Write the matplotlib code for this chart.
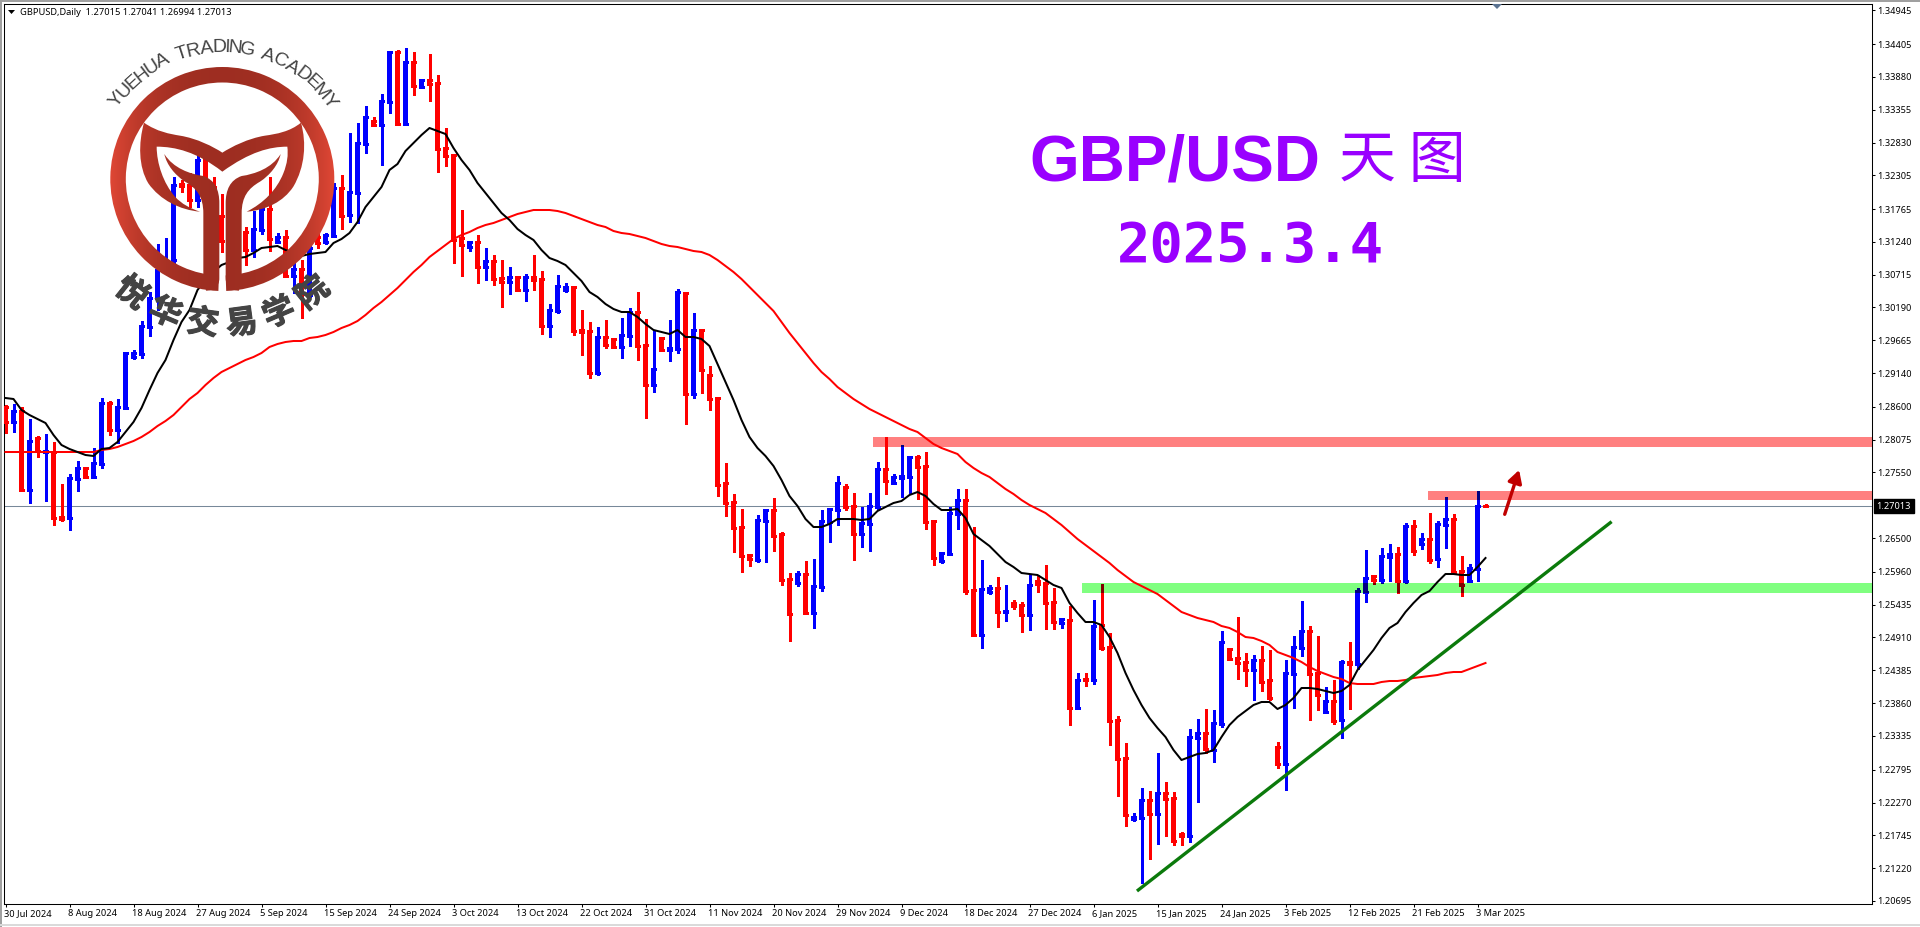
import numpy as np
import matplotlib
matplotlib.use('Agg')
import matplotlib.pyplot as plt
import matplotlib.patheffects as pe
from matplotlib.patches import Rectangle, Wedge, PathPatch, Polygon
from matplotlib.path import Path
from matplotlib.textpath import TextPath
from matplotlib.font_manager import FontProperties
from matplotlib.transforms import ScaledTranslation

plt.rcParams['font.family'] = ['Noto Sans', 'Noto Sans CJK SC', 'DejaVu Sans']

# daily GBPUSD candles, in points (1e-5)
opens = np.array([
    128598, 128358, 128534, 127270, 128102, 127878, 127878, 126838, 126822, 127446,
    127622, 127478, 127686, 128662, 128230, 128582, 129398, 129446, 129878, 130342,
    130822, 130950, 132166, 132150, 131910, 132566, 132118, 131654, 131270, 131510,
    131398, 131110, 131430, 131766, 131238, 131318, 130694, 130806, 130390, 131318,
    131238, 131334, 132102, 131670, 132022, 132806, 133174, 133110, 133478, 134278,
    133126, 134118, 133718, 133830, 133782, 132742, 132630, 131302, 131158, 131238,
    130838, 130934, 130662, 130598, 130678, 130470, 130678, 130646, 129894, 130134,
    130470, 130518, 129830, 129814, 129142, 129718, 129686, 129558, 129734, 130118,
    129590, 128950, 129702, 129510, 129526, 130422, 128806, 129830, 129110, 128742,
    127382, 127078, 126678, 126230, 126150, 126774, 126950, 126566, 125846, 125782,
    125926, 125302, 125718, 126758, 126950, 127318, 127014, 126566, 126726, 126998,
    127606, 127382, 127462, 127478, 127798, 127654, 126774, 126134, 126246, 126886,
    127110, 125670, 124950, 125638, 125702, 125318, 125462, 125430, 125270, 125814,
    125782, 125478, 125142, 125190, 123782, 124246, 124230, 125110, 124758, 123590,
    122982, 122006, 122022, 122310, 122086, 122422, 122342, 121766, 121734, 123302,
    123382, 123110, 123526, 124726, 124582, 124518, 124390, 124550, 124230, 123158,
    122886, 124326, 124742, 125014, 124342, 123718, 123894, 123590, 124518, 124486,
    125638, 125894, 125830, 126198, 126246, 125814, 126694, 126406, 126486, 126166,
    126710, 126806, 125974, 125814, 126006, 127015]) / 1e5
highs = np.array([
    128630, 128646, 128598, 128406, 128134, 128166, 128038, 127366, 127526, 127734,
    127638, 127942, 128742, 128694, 128726, 129462, 129510, 129974, 130438, 131206,
    131302, 132278, 132230, 132342, 132646, 132630, 132278, 132006, 131670, 131590,
    131478, 131734, 131862, 132278, 131382, 131430, 130998, 130950, 131222, 131478,
    131382, 132182, 132310, 132982, 133142, 133414, 133238, 133606, 134278, 134310,
    134342, 134278, 133846, 134246, 133910, 133062, 132630, 131750, 131254, 131350,
    131142, 131030, 130950, 130838, 130678, 130726, 131030, 130774, 130246, 130710,
    130582, 130534, 130150, 129958, 129878, 129990, 129686, 130022, 130182, 130438,
    130006, 129830, 129718, 129990, 130486, 130438, 130102, 129846, 129254, 128742,
    127702, 127206, 126966, 126230, 126870, 126950, 127142, 126598, 125942, 125974,
    126134, 126166, 126950, 126966, 127494, 127366, 127222, 126998, 127222, 127718,
    128118, 127526, 127990, 127798, 127830, 127878, 126790, 126278, 126998, 127286,
    127286, 126678, 126150, 125750, 125878, 125750, 125510, 125478, 125910, 125910,
    126070, 125702, 125206, 125414, 124342, 124342, 125510, 125766, 124982, 123654,
    123222, 122102, 122502, 122454, 123062, 122598, 122438, 121798, 123446, 123606,
    123766, 123750, 125014, 124742, 125238, 124662, 124630, 124774, 124710, 123238,
    124550, 124934, 125494, 125094, 124934, 124118, 124230, 124550, 124838, 125702,
    126310, 125910, 126342, 126406, 126358, 126742, 126790, 126582, 126902, 126774,
    127158, 126886, 126214, 126086, 127254, 127041]) / 1e5
lows = np.array([
    128182, 128198, 127254, 127062, 127798, 127094, 126710, 126774, 126630, 127254,
    127462, 127462, 127622, 128150, 128022, 128566, 129366, 129382, 129734, 130150,
    130758, 130902, 132038, 131798, 131798, 131990, 131670, 131078, 131190, 131302,
    130870, 130998, 131366, 131094, 131222, 130678, 130422, 130022, 130358, 131142,
    131206, 131318, 131446, 131558, 131542, 132662, 133110, 132470, 133302, 133110,
    133110, 133590, 133718, 133494, 132358, 132454, 130902, 130694, 131094, 130582,
    130630, 130550, 130198, 130406, 130454, 130294, 130470, 129766, 129718, 130102,
    130438, 129750, 129430, 129062, 129110, 129542, 129542, 129382, 129574, 129350,
    128422, 128838, 129494, 129334, 129462, 128326, 128742, 128822, 128550, 127174,
    126854, 126278, 125958, 126054, 126118, 126118, 126294, 125750, 124854, 125734,
    125286, 125062, 125654, 126438, 126710, 126950, 126150, 126358, 126294, 126950,
    127206, 127366, 127158, 127222, 127126, 126646, 126070, 126102, 126230, 126646,
    125606, 124934, 124742, 125606, 125078, 125174, 125366, 124998, 125030, 125638,
    125046, 125046, 125062, 123510, 123766, 124134, 124166, 124710, 123190, 122374,
    121894, 121974, 120982, 121366, 121606, 121734, 121590, 121590, 121638, 122278,
    123062, 122918, 123478, 124550, 124246, 124134, 123910, 124054, 123910, 122822,
    122470, 123782, 124614, 123590, 123750, 123718, 123526, 123302, 123766, 124406,
    125478, 125766, 125782, 125814, 125622, 125782, 126230, 126326, 126102, 126038,
    126342, 125926, 125574, 125798, 125814, 126994]) / 1e5
closes = np.array([
    128358, 128534, 127270, 128054, 127894, 127894, 126822, 126806, 127462, 127622,
    127478, 127702, 128662, 128230, 128598, 129462, 129462, 129894, 130342, 130790,
    130918, 132150, 132134, 131910, 132550, 132150, 131990, 131254, 131510, 131398,
    131110, 131446, 131766, 131286, 131318, 130694, 130806, 130422, 131142, 131222,
    131350, 132102, 131654, 132038, 132822, 133238, 133110, 133494, 134278, 133126,
    134118, 133734, 133830, 133766, 132726, 132614, 131270, 131190, 131238, 130838,
    130934, 130646, 130598, 130678, 130470, 130678, 130630, 129894, 130150, 130534,
    130518, 129814, 129798, 129142, 129718, 129590, 129558, 129750, 130118, 129574,
    128950, 129206, 129510, 129542, 130438, 128806, 129830, 129190, 128726, 127350,
    127062, 126662, 126214, 126166, 126790, 126950, 126534, 125830, 125286, 125926,
    125302, 125734, 126774, 126966, 127382, 126998, 126566, 126742, 127014, 127606,
    127414, 127478, 127494, 127798, 127638, 126758, 126182, 126262, 126902, 127110,
    125654, 124950, 125686, 125702, 125318, 125334, 125414, 125270, 125750, 125766,
    125462, 125158, 125206, 123782, 124230, 124230, 125094, 124742, 123574, 122966,
    122070, 122038, 122310, 122086, 122422, 122326, 121654, 121734, 123318, 123382,
    123126, 123542, 124838, 124566, 124502, 124390, 124550, 124198, 123942, 122886,
    124342, 124758, 125014, 124326, 123990, 123894, 123574, 124518, 124486, 125654,
    125862, 125830, 126214, 126246, 125814, 126694, 126294, 126486, 126150, 126726,
    126806, 125958, 125750, 126022, 127014, 127013]) / 1e5

# moving averages, same length as the candles
ma_black = np.array([
    128742, 128726, 128550, 128470, 128406, 128342, 128150, 127990, 127926, 127878,
    127830, 127814, 127926, 127942, 128038, 128198, 128358, 128582, 128870, 129142,
    129350, 129670, 129958, 130150, 130470, 130630, 130758, 130870, 130918, 130982,
    130998, 131062, 131142, 131158, 131174, 131110, 131062, 131014, 131046, 131062,
    131078, 131222, 131286, 131382, 131558, 131798, 131958, 132118, 132390, 132486,
    132694, 132822, 132950, 133062, 133014, 132966, 132742, 132550, 132390, 132182,
    132022, 131862, 131702, 131590, 131446, 131350, 131270, 131110, 130982, 130934,
    130870, 130742, 130614, 130438, 130358, 130246, 130166, 130118, 130118, 130038,
    129926, 129830, 129798, 129766, 129830, 129718, 129718, 129686, 129574, 129286,
    128998, 128710, 128390, 128118, 127942, 127814, 127654, 127430, 127174, 127014,
    126806, 126678, 126678, 126726, 126806, 126806, 126806, 126790, 126806, 126934,
    126998, 127062, 127094, 127190, 127238, 127174, 127046, 126950, 126950, 126966,
    126822, 126566, 126470, 126374, 126246, 126118, 126038, 125942, 125926, 125910,
    125830, 125750, 125702, 125462, 125302, 125158, 125158, 125110, 124918, 124662,
    124342, 124070, 123830, 123622, 123462, 123318, 123110, 122950, 122998, 123046,
    123062, 123110, 123318, 123510, 123638, 123734, 123830, 123878, 123878, 123766,
    123830, 123942, 124102, 124102, 124086, 124054, 124022, 124054, 124150, 124390,
    124550, 124710, 124902, 125062, 125142, 125318, 125462, 125590, 125654, 125798,
    125926, 125926, 125910, 125910, 126038, 126182]) / 1e5
ma_red = np.array([
    127878, 127878, 127878, 127878, 127878, 127878, 127878, 127878, 127878, 127878,
    127878, 127878, 127910, 127926, 127958, 128006, 128054, 128118, 128198, 128294,
    128374, 128470, 128598, 128726, 128822, 128950, 129062, 129158, 129222, 129286,
    129350, 129398, 129462, 129558, 129606, 129638, 129654, 129654, 129702, 129718,
    129750, 129798, 129862, 129910, 129974, 130070, 130182, 130278, 130390, 130502,
    130630, 130758, 130870, 130998, 131094, 131190, 131286, 131350, 131398, 131462,
    131510, 131542, 131590, 131638, 131686, 131718, 131750, 131750, 131750, 131734,
    131702, 131654, 131606, 131558, 131510, 131478, 131414, 131382, 131366, 131334,
    131302, 131254, 131206, 131174, 131158, 131126, 131094, 131078, 131030, 130950,
    130854, 130758, 130646, 130518, 130390, 130262, 130134, 129958, 129782, 129622,
    129462, 129302, 129158, 129046, 128918, 128822, 128726, 128646, 128566, 128502,
    128438, 128374, 128310, 128246, 128198, 128102, 128006, 127942, 127894, 127846,
    127718, 127622, 127542, 127478, 127382, 127286, 127206, 127110, 127030, 126966,
    126902, 126806, 126710, 126598, 126486, 126390, 126294, 126198, 126102, 125990,
    125894, 125798, 125734, 125670, 125606, 125510, 125414, 125318, 125270, 125222,
    125190, 125158, 125094, 125062, 124998, 124918, 124902, 124854, 124790, 124678,
    124630, 124582, 124518, 124438, 124374, 124326, 124278, 124246, 124182, 124166,
    124166, 124166, 124198, 124214, 124214, 124230, 124262, 124278, 124294, 124310,
    124342, 124358, 124358, 124406, 124454, 124502]) / 1e5

date_labels = ['30 Jul 2024', '8 Aug 2024', '18 Aug 2024', '27 Aug 2024', '5 Sep 2024',
               '15 Sep 2024', '24 Sep 2024', '3 Oct 2024', '13 Oct 2024', '22 Oct 2024',
               '31 Oct 2024', '11 Nov 2024', '20 Nov 2024', '29 Nov 2024', '9 Dec 2024',
               '18 Dec 2024', '27 Dec 2024', '6 Jan 2025', '15 Jan 2025', '24 Jan 2025',
               '3 Feb 2025', '12 Feb 2025', '21 Feb 2025', '3 Mar 2025']
price_ticks = [1.34945, 1.34405, 1.33880, 1.33355, 1.32830, 1.32305, 1.31765, 1.31240,
               1.30715, 1.30190, 1.29665, 1.29140, 1.28600, 1.28075, 1.27550, 1.26500,
               1.25960, 1.25435, 1.24910, 1.24385, 1.23860, 1.23335, 1.22795, 1.22270,
               1.21745, 1.21220, 1.20695]

# horizontal zones: first bar, low, high
zone_starts = [108.4, 177.75, 134.5]
zone_lows = [1.27960, 1.27115, 1.25620]
zone_highs = [1.28118, 1.27254, 1.25782]
zone_colors = ['#FF8080', '#FF8080', '#80FF80']

# trend line and arrow ends (bar, price)
trend_bars = [141.6, 200.6]
trend_prices = [1.20870, 1.26747]
arrow_bars = [187.4, 189.2]
arrow_prices = [1.26881, 1.27590]

PX_PER_BAR = 8
FIRST_BAR_PX = 5.5
W, H = 1920, 927
AX_L, AX_R, AX_T, AX_B = 4, 1872, 4, 904


def draw_candles(ax, up, down, zorder, clip=None):
    xs = np.arange(len(opens))
    colors = [up if c >= o else down for o, c in zip(opens, closes)]
    half = 2.5 / PX_PER_BAR
    bottoms = np.minimum(opens, closes)
    tops = np.maximum(opens, closes)
    arts = [
        ax.vlines(xs, lows, highs, colors=colors, linewidths=0.75, zorder=zorder),
        ax.hlines(opens, xs - half, xs + half, colors=colors, linewidths=0.75, zorder=zorder),
        ax.hlines(closes, xs - half, xs + half, colors=colors, linewidths=0.75, zorder=zorder),
    ]
    arts.extend(ax.bar(xs, tops - bottoms, width=2 * half, bottom=bottoms, color=colors,
                       linewidth=0, zorder=zorder))
    for a in arts:
        a.set_antialiased(False)
        if clip is not None:
            a.set_clip_path(clip)


def gradient_fill(ov, patch, box):
    # logo fill: dark in the middle, lighter towards the left/right edges
    t = np.abs(np.linspace(-1, 1, 200)) ** 2.6
    dark = np.array([0.62, 0.18, 0.13])
    light = np.array([0.88, 0.28, 0.21])
    img = (dark[None, :] * (1 - t[:, None]) + light[None, :] * t[:, None])[None, :, :]
    im = ov.imshow(img, extent=box, aspect='auto', zorder=20, origin='upper')
    patch.set_transform(ov.transData)
    im.set_clip_path(patch)


def curved_text(ov, text, cx, cy, r, a0, a1, size, **kw):
    fp = FontProperties(family='Liberation Sans', size=size)
    widths = [TextPath((0, 0), ch, prop=fp).get_extents().width if ch != ' ' else size * 0.3
              for ch in text]
    widths = np.array(widths) + size * 0.12
    mid = np.cumsum(widths) - widths / 2
    angles = a0 + (a1 - a0) * mid / widths.sum()
    for ch, a in zip(text, angles):
        rad = np.deg2rad(a)
        ov.text(cx + r * np.sin(rad), cy - r * np.cos(rad), ch, rotation=-a,
                rotation_mode='anchor', ha='center', va='baseline', fontsize=size,
                family='Liberation Sans', zorder=22, **kw)


def draw_logo(ov):
    cx, cy = 222.3, 179.0
    box = (cx - 113, cx + 113, cy + 113, cy - 113)
    # y runs downwards on this overlay, so the gap at the foot sits at +90 degrees
    ring = Wedge((cx, cy), 112, 92, 448, width=15.5)
    gradient_fill(ov, ring, box)

    def z(x, y):
        return (x / 3.0, y / 3.0)

    tail = [(432, 368), (470, 395), (510, 402), (540, 407), (590, 415), (640, 440), (667, 458),
            (695, 440), (745, 415), (795, 407), (830, 402), (870, 395), (903, 368),
            (920, 430), (915, 500), (880, 560), (850, 605), (800, 630), (740, 635),
            (790, 610), (830, 570), (850, 520), (862, 490), (865, 465), (862, 440),
            (810, 440), (750, 455), (667, 515), (590, 455), (525, 440), (470, 440),
            (470, 490), (490, 550), (525, 590), (545, 612), (570, 625), (600, 635),
            (540, 630), (480, 600), (445, 550), (415, 500), (415, 430), (432, 368)]
    codes = [Path.MOVETO] + [Path.CURVE4] * (len(tail) - 1)
    gradient_fill(ov, PathPatch(Path([z(*p) for p in tail], codes)), box)

    stem = [(493, 462), (520, 505), (570, 522), (610, 528), (645, 540), (658, 570), (658, 610),
            (658, 835), (658, 860), (640, 872), (618, 872), (610, 825), (610, 640),
            (610, 590), (590, 565), (555, 545), (525, 525), (500, 495), (493, 462)]
    stem_codes = [Path.MOVETO] + [Path.CURVE4] * 6 + [Path.LINETO] + [Path.CURVE4] * 3 + \
        [Path.LINETO] * 2 + [Path.CURVE4] * 6
    gradient_fill(ov, PathPatch(Path([z(*p) for p in stem], stem_codes)), box)
    mirrored = [(1335 - x, y) for x, y in stem]
    gradient_fill(ov, PathPatch(Path([z(*p) for p in mirrored], stem_codes)), box)

    curved_text(ov, 'YUEHUA TRADING ACADEMY', cx, cy, 127, -56, 57, 14, color='#444444')

    for ch, a in zip('悦华交易学院', [38.5, 23, 7.7, -7.7, -23, -38.5]):
        rad = np.deg2rad(a)
        t = ov.text(cx - 146 * np.sin(rad), cy + 146 * np.cos(rad), ch, rotation=-a,
                    rotation_mode='anchor', ha='center', va='center', fontsize=23,
                    family='Noto Sans CJK SC', fontweight='bold', color='#444444', zorder=22)
        t.set_path_effects([pe.withStroke(linewidth=0.8, foreground='#444444')])


def main():
    fig = plt.figure(figsize=(W / 100, H / 100), dpi=100, facecolor='white')
    ax = fig.add_axes([AX_L / W, 1 - AX_B / H, (AX_R - AX_L) / W, (AX_B - AX_T) / H])
    ax.set_xlim((AX_L - FIRST_BAR_PX) / PX_PER_BAR, (AX_R - FIRST_BAR_PX) / PX_PER_BAR)
    ax.set_ylim(1.35110 - 0.00016 * AX_B, 1.35110 - 0.00016 * AX_T)
    right = ax.get_xlim()[1]

    last_close = closes[-1]
    ax.axhline(last_close, color='#778899', lw=0.75, zorder=1)

    for start, lo, hi, col in zip(zone_starts, zone_lows, zone_highs, zone_colors):
        ax.add_patch(Rectangle((start, lo), right - start, hi - lo, fc=col, ec='none', zorder=2))

    draw_candles(ax, '#0000FF', '#FF0000', 3)
    # the zones darken what runs through them
    for i, (up, down) in enumerate([('#000080', '#FF0000'), ('#000080', '#FF0000'),
                                    ('#000080', '#800000')]):
        clip = Rectangle((zone_starts[i], zone_lows[i]), right - zone_starts[i],
                         zone_highs[i] - zone_lows[i], transform=ax.transData)
        draw_candles(ax, up, down, 4, clip=clip)

    xs = np.arange(len(closes))
    ax.plot(xs, ma_red, color='#FF0000', lw=1.45, zorder=5)
    ax.plot(xs, ma_black, color='#000000', lw=1.45, zorder=5)
    ax.plot(trend_bars, trend_prices, color='#0B7A0B', lw=2.4, zorder=6)
    ax.annotate('', xy=(arrow_bars[1], arrow_prices[1]), xytext=(arrow_bars[0], arrow_prices[0]),
                arrowprops=dict(arrowstyle='-|>,head_length=0.75,head_width=0.42', color='#C00000',
                                lw=2.4, shrinkA=0, shrinkB=0), zorder=7)

    ax.yaxis.tick_right()
    ax.set_yticks(price_ticks)
    ax.set_yticklabels([f'{v:.5f}' for v in price_ticks], fontsize=6.6)
    ax.set_xticks(np.arange(len(date_labels)) * PX_PER_BAR)
    ax.set_xticklabels(date_labels, fontsize=6.7, ha='left')
    ax.tick_params(axis='both', length=2.2, width=0.75, color='black', labelcolor='black')
    ax.tick_params(axis='y', pad=1.5)
    ax.tick_params(axis='x', pad=1.5)
    nudge = ScaledTranslation(-2 / 100, 0, fig.dpi_scale_trans)
    for lab in ax.get_xticklabels():
        lab.set_transform(lab.get_transform() + nudge)
    for s in ax.spines.values():
        s.set_linewidth(0.75)
        s.set_color('black')

    ax.text(1.0025, last_close, f'{last_close:.5f}', transform=ax.get_yaxis_transform(),
            color='white', fontsize=6.6, va='center', ha='left', zorder=10, clip_on=False,
            bbox=dict(fc='black', ec='black', boxstyle='square,pad=0.3'))

    # overlay in pixel coordinates for logo, title, window frame
    ov = fig.add_axes([0, 0, 1, 1], facecolor='none')
    ov.axis('off')
    draw_logo(ov)
    ov.set_xlim(0, W)
    ov.set_ylim(H, 0)

    ov.text(1175, 180, 'GBP/USD', fontsize=46, fontweight='bold', family='Liberation Sans',
            color='#9900FF', ha='center', va='baseline')
    ov.text(1402, 161, '天 图', fontsize=41, family='Noto Sans CJK SC', color='#9900FF',
            ha='center', va='center')
    ov.text(1250, 262, '2025.3.4', fontsize=40, fontweight='bold', family='DejaVu Sans Mono',
            color='#9900FF', ha='center', va='baseline')

    ov.text(20, 12.5, 'GBPUSD,Daily  1.27015 1.27041 1.26994 1.27013', fontsize=6.7, color='black',
            ha='left', va='center')
    ov.add_patch(Polygon([(8, 10), (15, 10), (11.5, 14)], fc='black', ec='none'))
    ov.add_patch(Polygon([(1492, 4), (1502, 4), (1497, 9)], fc='#5B7391', ec='none'))
    ov.add_patch(Rectangle((0, 0), W, 2, fc='#A0A0A0', ec='none'))
    ov.add_patch(Rectangle((0, 0), 2, H, fc='#A0A0A0', ec='none'))
    ov.add_patch(Rectangle((0, 924), W, 2, fc='#DADADA', ec='none'))

    fig.savefig('out.png', dpi=100)


if __name__ == '__main__':
    main()
